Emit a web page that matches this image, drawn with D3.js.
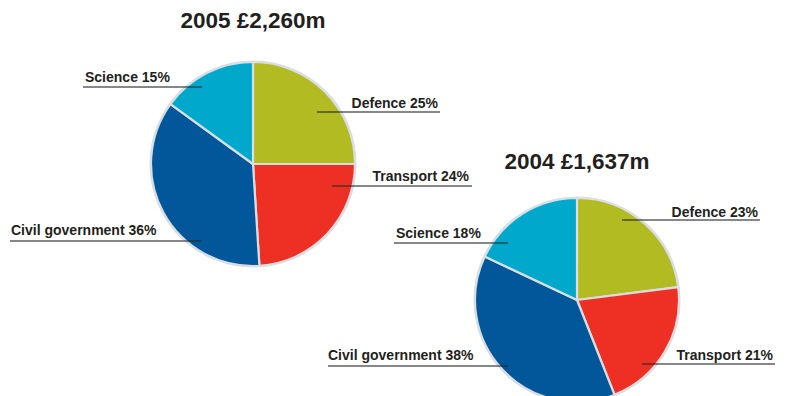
<!DOCTYPE html>
<html>
<head>
<meta charset="utf-8">
<script src="https://cdn.jsdelivr.net/npm/d3@7"></script>
<style>
  html, body { margin: 0; padding: 0; background: #ffffff; }
  svg { display: block; }
  text { font-family: "Liberation Sans", Arial, Helvetica, sans-serif; font-weight: bold; fill: #231f20; }
</style>
</head>
<body>
<svg id="chart" width="786" height="396"></svg>
<script>
// Spending split by sector, two years
const categories = ["Defence", "Transport", "Civil government", "Science"];
const values2005 = [25, 24, 36, 15];
const values2004 = [23, 21, 38, 18];
const titles = ["2005 £2,260m", "2004 £1,637m"];
const colors = ["#b2bb21", "#ee3024", "#02579a", "#00a9cb"];

const svg = d3.select("#chart");
const color = d3.scaleOrdinal().domain(categories).range(colors);

// Per-pie layout: centre, title baseline, and label placement relative to the centre.
// side "r": text ends at tx, leader runs from lx (inside the pie) to the text end.
// side "l": text starts at tx, leader runs from the text start to lx.
const pies = [
  {
    values: values2005, title: titles[0], cx: 253, cy: 164, r: 104, titleY: -136,
    labels: [
      { side: "r", tx: 185, ty: -56, ly: -52, lx: 64, ext: 2 },
      { side: "r", tx: 216, ty: 17, ly: 22, lx: 79, ext: 3 },
      { side: "l", tx: -242, ty: 71, ly: 77, lx: -52, ext: -1 },
      { side: "l", tx: -168, ty: -82, ly: -77, lx: -51, ext: -2 }
    ]
  },
  {
    values: values2004, title: titles[1], cx: 577, cy: 300, r: 104, titleY: -131,
    labels: [
      { side: "r", tx: 181, ty: -83, ly: -80, lx: 45, ext: 2 },
      { side: "r", tx: 196, ty: 60, ly: 64, lx: 65, ext: 2 },
      { side: "l", tx: -249, ty: 60, ly: 66, lx: -69, ext: 0 },
      { side: "l", tx: -181, ty: -62, ly: -57, lx: -69, ext: -2 }
    ]
  }
];

const pie = d3.pie().sort(null).value(d => d.value);

pies.forEach(p => {
  const g = svg.append("g").attr("transform", `translate(${p.cx},${p.cy})`);
  const data = categories.map((c, i) => ({ category: c, value: p.values[i] }));
  const arcs = pie(data);
  const arc = d3.arc().innerRadius(0).outerRadius(p.r - 2);

  // light rim around the whole pie
  g.append("circle").attr("r", p.r - 0.5).attr("fill", "#d8dde2");

  g.selectAll("path.slice")
    .data(arcs)
    .join("path")
    .attr("class", "slice")
    .attr("d", arc)
    .attr("fill", d => color(d.data.category))
    .attr("stroke", "#dadee3")
    .attr("stroke-width", 2.2)
    .attr("stroke-linejoin", "round");

  g.append("text")
    .attr("x", 0)
    .attr("y", p.titleY)
    .attr("text-anchor", "middle")
    .style("font-size", "22.5px")
    .text(p.title);

  arcs.forEach((a, i) => {
    const L = p.labels[i];
    const label = `${a.data.category} ${a.data.value}%`;
    g.append("text")
      .attr("x", L.tx)
      .attr("y", L.ty)
      .attr("text-anchor", L.side === "r" ? "end" : "start")
      .style("font-size", "14px")
      .text(label);
    const x1 = L.side === "r" ? L.lx : L.tx + L.ext;
    const x2 = L.side === "r" ? L.tx + L.ext : L.lx;
    g.append("line")
      .attr("x1", x1).attr("x2", x2)
      .attr("y1", L.ly).attr("y2", L.ly)
      .attr("stroke", "#2a2a2a")
      .attr("stroke-opacity", 0.75)
      .attr("stroke-width", 1.4);
  });
});
</script>
</body>
</html>
